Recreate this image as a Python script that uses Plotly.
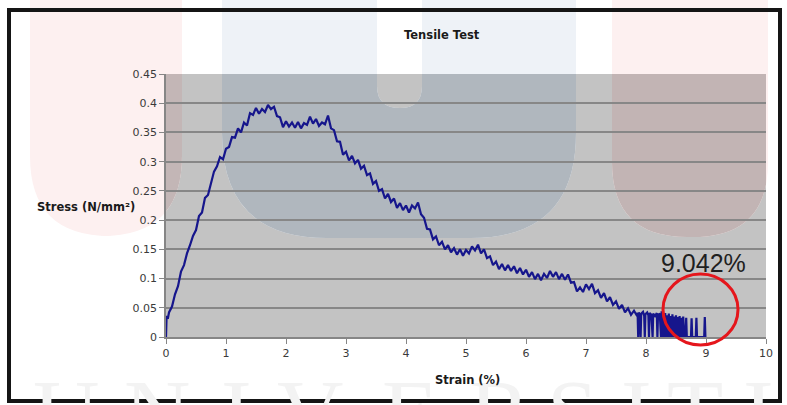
import plotly.graph_objects as go

# ---------------- data ----------------
strain_main = [0.00, 0.01, 0.03, 0.05, 0.10, 0.15, 0.20, 0.25, 0.30, 0.35, 0.40, 0.45, 0.50, 0.55, 0.60,
               0.65, 0.70, 0.75, 0.80, 0.85, 0.90, 0.95, 1.00, 1.05, 1.10, 1.15, 1.20, 1.25, 1.30, 1.35,
               1.40, 1.45, 1.50, 1.55, 1.60, 1.65, 1.70, 1.75, 1.80, 1.85, 1.90, 1.95, 2.00, 2.05, 2.10,
               2.15, 2.20, 2.25, 2.30, 2.35, 2.40, 2.45, 2.50, 2.55, 2.60, 2.65, 2.70, 2.75, 2.80, 2.85,
               2.90, 2.95, 3.00, 3.05, 3.10, 3.15, 3.20, 3.25, 3.30, 3.35, 3.40, 3.45, 3.50, 3.55, 3.60,
               3.65, 3.70, 3.75, 3.80, 3.85, 3.90, 3.95, 4.00, 4.05, 4.10, 4.15, 4.20, 4.25, 4.30, 4.35,
               4.40, 4.45, 4.50, 4.55, 4.60, 4.65, 4.70, 4.75, 4.80, 4.85, 4.90, 4.95, 5.00, 5.05, 5.10,
               5.15, 5.20, 5.25, 5.30, 5.35, 5.40, 5.45, 5.50, 5.55, 5.60, 5.65, 5.70, 5.75, 5.80, 5.85,
               5.90, 5.95, 6.00, 6.05, 6.10, 6.15, 6.20, 6.25, 6.30, 6.35, 6.40, 6.45, 6.50, 6.55, 6.60,
               6.65, 6.70, 6.75, 6.80, 6.85, 6.90, 6.95, 7.00, 7.05, 7.10, 7.15, 7.20, 7.25, 7.30, 7.35,
               7.40, 7.45, 7.50, 7.55, 7.60, 7.65, 7.70, 7.75, 7.80, 7.84]
stress_main = [0.000, 0.036, 0.031, 0.042, 0.052, 0.073, 0.087, 0.112, 0.123, 0.143, 0.157, 0.173, 0.183, 0.207, 0.213,
               0.238, 0.243, 0.262, 0.283, 0.292, 0.308, 0.304, 0.322, 0.325, 0.342, 0.341, 0.357, 0.350, 0.367, 0.362,
               0.383, 0.380, 0.392, 0.382, 0.390, 0.385, 0.397, 0.390, 0.394, 0.378, 0.376, 0.359, 0.369, 0.360, 0.367,
               0.358, 0.368, 0.357, 0.366, 0.363, 0.377, 0.365, 0.373, 0.361, 0.367, 0.364, 0.379, 0.357, 0.354, 0.335,
               0.334, 0.312, 0.317, 0.302, 0.310, 0.297, 0.303, 0.288, 0.293, 0.277, 0.280, 0.262, 0.267, 0.250, 0.253,
               0.237, 0.245, 0.231, 0.237, 0.221, 0.229, 0.217, 0.225, 0.213, 0.225, 0.220, 0.230, 0.210, 0.204, 0.185,
               0.184, 0.167, 0.172, 0.157, 0.163, 0.150, 0.157, 0.145, 0.152, 0.141, 0.150, 0.139, 0.149, 0.143, 0.155,
               0.148, 0.158, 0.143, 0.150, 0.135, 0.138, 0.123, 0.129, 0.116, 0.125, 0.114, 0.123, 0.113, 0.121, 0.109,
               0.118, 0.107, 0.115, 0.103, 0.111, 0.099, 0.108, 0.097, 0.108, 0.101, 0.113, 0.103, 0.111, 0.099, 0.108,
               0.098, 0.107, 0.093, 0.094, 0.078, 0.085, 0.077, 0.090, 0.082, 0.091, 0.075, 0.080, 0.067, 0.075, 0.061,
               0.068, 0.055, 0.061, 0.048, 0.055, 0.042, 0.049, 0.038, 0.045, 0.038]

# fracture region: readings drop to zero repeatedly
strain_tail = [7.86, 7.87, 7.88, 7.90, 7.91, 7.92, 7.95, 7.97, 7.98, 7.99, 8.02, 8.04, 8.05, 8.06, 8.09,
               8.11, 8.12, 8.15, 8.18, 8.19, 8.20, 8.23, 8.25, 8.26, 8.28, 8.29, 8.31, 8.32, 8.34, 8.35,
               8.37, 8.38, 8.40, 8.41, 8.43, 8.44, 8.46, 8.47, 8.49, 8.50, 8.52, 8.53, 8.55, 8.56, 8.58,
               8.59, 8.61, 8.62, 8.64, 8.66, 8.67, 8.68, 8.75, 8.76, 8.77, 8.83, 8.84, 8.85, 8.97, 8.98, 8.99]
stress_tail = [0.041, 0.000, 0.042, 0.037, 0.000, 0.040, 0.043, 0.036, 0.000, 0.039, 0.042, 0.037, 0.000, 0.041, 0.038,
               0.000, 0.040, 0.036, 0.041, 0.000, 0.038, 0.040, 0.000, 0.044, 0.000, 0.038, 0.000, 0.041, 0.000, 0.037,
               0.000, 0.040, 0.000, 0.036, 0.000, 0.039, 0.000, 0.035, 0.000, 0.037, 0.000, 0.034, 0.000, 0.036, 0.000,
               0.033, 0.000, 0.035, 0.000, 0.000, 0.033, 0.000, 0.000, 0.032, 0.000, 0.000, 0.033, 0.000, 0.000, 0.034, 0.000]

x_ticks = [0, 1, 2, 3, 4, 5, 6, 7, 8, 9, 10]
y_ticks = [0, 0.05, 0.1, 0.15, 0.2, 0.25, 0.3, 0.35, 0.4, 0.45]
y_tick_text = ["0", "0.05", "0.1", "0.15", "0.2", "0.25", "0.3", "0.35", "0.4", "0.45"]
title_text = "Tensile Test"
x_title = "Strain (%)"
y_title = "Stress (N/mm²)"
callout_text = "9.042%"
watermark_letters = ["U", "N", "I", "V", "E", "R", "S", "I", "T", "I"]

# ---------------- layout geometry ----------------
W, H = 787, 405
ML, MR, MT, MB = 166, 21, 74, 68
PW, PH = W - ML - MR, H - MT - MB
XMAX, YMAX = 10.0, 0.45


def px_paper(X, Y):
    return (X - ML) / PW, (H - MB - Y) / PH


def px_data(X, Y):
    return (X - ML) / PW * XMAX, (H - MB - Y) / PH * YMAX


def path_from(points, conv):
    out = []
    for cmd, pts in points:
        coords = []
        for (X, Y) in pts:
            a, b = conv(X, Y)
            coords.append(f"{a:.5f},{b:.5f}")
        out.append(cmd + " ".join(coords))
    return " ".join(out) + " Z"


def rounded_bottom(x0, x1, ytop, ybot, r):
    return [("M", [(x0, ytop)]), ("L", [(x0, ybot - r)]), ("Q", [(x0, ybot), (x0 + r, ybot)]),
            ("L", [(x1 - r, ybot)]), ("Q", [(x1, ybot), (x1, ybot - r)]), ("L", [(x1, ytop)])]


def u_shape(x0, x1, ytop, ybot, r, ix0, ix1, iybot, ir):
    return [("M", [(x0, ytop)]), ("L", [(x0, ybot - r)]), ("Q", [(x0, ybot), (x0 + r, ybot)]),
            ("L", [(x1 - r, ybot)]), ("Q", [(x1, ybot), (x1, ybot - r)]), ("L", [(x1, ytop)]),
            ("L", [(ix1, ytop)]), ("L", [(ix1, iybot - ir)]), ("Q", [(ix1, iybot), (ix1 - ir, iybot)]),
            ("Q", [(ix0, iybot), (ix0, iybot - ir)]), ("L", [(ix0, ytop)])]


wm = [
    (rounded_bottom(30, 182, -20, 236, 80), "#fdf0f0", "#c3b6b6"),
    (u_shape(222, 576, -20, 238, 105, 377, 422, 108, 22), "#eef2f7", "#b0b7be"),
    (rounded_bottom(612, 768, -20, 237, 75), "#fdf0f0", "#c2b4b4"),
]

shapes = []
for geom, light, dark in wm:
    shapes.append(dict(type="path", xref="paper", yref="paper", layer="below",
                       path=path_from(geom, px_paper), fillcolor=light, line=dict(width=0)))
    shapes.append(dict(type="path", xref="x", yref="y", layer="below",
                       path=path_from(geom, px_data), fillcolor=dark, line=dict(width=0)))

# red callout circle
cx0, cy0 = px_paper(663, 345)
cx1, cy1 = px_paper(738, 274)
shapes.append(dict(type="circle", xref="paper", yref="paper", layer="above",
                   x0=cx0, y0=cy0, x1=cx1, y1=cy1, line=dict(color="#e5161c", width=3)))

# outer black frame
fx0, fy0 = px_paper(9, 401)
fx1, fy1 = px_paper(780, 10)
shapes.append(dict(type="rect", xref="paper", yref="paper", layer="above",
                   x0=fx0, y0=fy0, x1=fx1, y1=fy1, line=dict(color="#151515", width=4)))

annotations = []
# faint watermark letters at the bottom
letter_x = [66, 157, 236, 310, 410, 500, 572, 636, 695, 758]
for ch, X in zip(watermark_letters, letter_x):
    ax, ay = px_paper(X, 359)
    annotations.append(dict(text=ch, x=ax, y=ay, xref="paper", yref="paper", xanchor="center",
                            yanchor="top", showarrow=False,
                            font=dict(family="Liberation Serif", size=92, color="#f3f3f3")))

tx, ty = px_paper(442, 35)
annotations.append(dict(text="<b>" + title_text + "</b>", x=tx, y=ty, xref="paper", yref="paper",
                        xanchor="center", yanchor="middle", showarrow=False,
                        font=dict(family="DejaVu Sans", size=11.5, color="#1a1a1a")))
xx, xy = px_paper(467, 380)
annotations.append(dict(text="<b>" + x_title + "</b>", x=xx, y=xy, xref="paper", yref="paper",
                        xanchor="center", yanchor="middle", showarrow=False,
                        font=dict(family="DejaVu Sans", size=11.5, color="#1a1a1a")))
yx, yy = px_paper(137, 207)
annotations.append(dict(text="<b>" + y_title + "</b>", x=yx, y=yy, xref="paper", yref="paper",
                        xanchor="right", yanchor="middle", showarrow=False,
                        font=dict(family="DejaVu Sans", size=11.5, color="#1a1a1a")))
kx, ky = px_paper(703, 263)
annotations.append(dict(text=callout_text, x=kx, y=ky, xref="paper", yref="paper",
                        xanchor="center", yanchor="middle", showarrow=False,
                        font=dict(family="Liberation Sans", size=25, color="#1f1f1f")))

fig = go.Figure()
fig.add_trace(go.Scatter(x=strain_main + strain_tail, y=stress_main + stress_tail, mode="lines",
                         line=dict(color="#16168c", width=2.2), hoverinfo="skip", showlegend=False))

axis_font = dict(family="DejaVu Sans", size=11, color="#3a3a3a")
fig.update_layout(
    width=W, height=H,
    margin=dict(l=ML, r=MR, t=MT, b=MB, pad=0),
    paper_bgcolor="white", plot_bgcolor="#c3c3c3",
    shapes=shapes, annotations=annotations, showlegend=False,
    xaxis=dict(range=[0, XMAX], tickvals=x_ticks, showgrid=False, zeroline=False,
               showline=True, linecolor="#868686", linewidth=2,
               ticks="outside", ticklen=5, tickcolor="#868686", tickwidth=1,
               tickfont=axis_font, fixedrange=True),
    yaxis=dict(range=[0, YMAX], tickvals=y_ticks, ticktext=y_tick_text, showgrid=True,
               gridcolor="#878787", gridwidth=2, zeroline=False,
               showline=True, linecolor="#868686", linewidth=1.5,
               ticks="outside", ticklen=5, tickcolor="#868686", tickwidth=1,
               tickfont=axis_font, fixedrange=True),
)

fig.write_html("out.html")
